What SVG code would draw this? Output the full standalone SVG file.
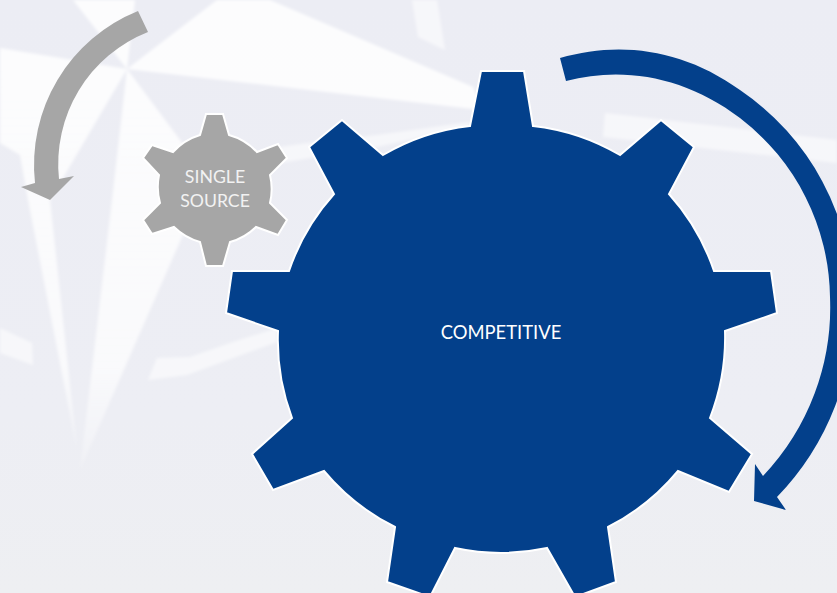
<svg xmlns="http://www.w3.org/2000/svg" width="837" height="593" viewBox="0 0 837 593">
  <defs>
    <linearGradient id="bg" x1="0" y1="0" x2="0" y2="1">
      <stop offset="0" stop-color="#ecedf4"/>
      <stop offset="0.7" stop-color="#edeef4"/>
      <stop offset="1" stop-color="#eeeff2"/>
    </linearGradient>
    <linearGradient id="rayfade" gradientUnits="userSpaceOnUse" x1="0" y1="70" x2="0" y2="470">
      <stop offset="0" stop-color="#ffffff" stop-opacity="0.85"/>
      <stop offset="0.75" stop-color="#ffffff" stop-opacity="0.7"/>
      <stop offset="1" stop-color="#ffffff" stop-opacity="0.15"/>
    </linearGradient>
    <filter id="soft" x="-5%" y="-5%" width="110%" height="110%">
      <feGaussianBlur stdDeviation="1.4"/>
    </filter>
  </defs>
  <style>
    .wm { fill: #ffffff; fill-opacity: 0.86; stroke: none; }
    .wf { fill: #ffffff; fill-opacity: 0.55; stroke: none; }
    .ray { fill: url(#rayfade); stroke: none; }
    .blue { fill: #03408b; }
    .grey { fill: #a6a6a6; }
    .gear { stroke: #ffffff; stroke-width: 2; stroke-linejoin: miter; }
    text { font-family: "Lato", "Open Sans", sans-serif; text-anchor: middle; }
    .big { fill: #ffffff; font-size: 18.4px; }
    .small { fill: #f2f2f2; font-size: 17.7px; }
  </style>
  <rect width="837" height="593" fill="url(#bg)"/>
  <g id="watermark" filter="url(#soft)">
    <polygon class="wm" points="127,69 217,0 270,0 473,87 482,110"/>
    <polygon class="wm" points="127,69 73,0 135,0"/>
    <polygon class="ray" points="127,69 0,48 0,143 20,155 28,200 77,450 50,200"/>
    <polygon class="ray" points="127,69 195,160 185,230 80,470 112,200"/>
    <polygon class="wf" points="412,0 437,0 445,50 418,37"/>
    <polygon class="wf" points="280,147 308,143 377,135 470,122 468,127 377,147 310,158 280,163"/>
    <polygon class="wf" points="605,113 837,140 837,163 603,137"/>
    <polygon class="wf" points="0,328 32,343 33,365 0,353"/>
    <polygon class="wf" points="157,358 148,380 187,375 277,342 277,328 233,342 190,357"/>
  </g>
  <g id="connectors">
    <path class="grey" d="M138,11 A166,166 0 0 0 35,183 L21,187 L50,200 L74,176 L59,179 A142,142 0 0 1 148,32 Z"/>
    <path class="blue" d="M560,58 C618,41 682,48 740,90 A258,258 0 0 1 853,300 A270,270 0 0 1 777,497 L786,510 L754,501 L755,464 L763,476 A245,245 0 0 0 830,297 A229,229 0 0 0 740,118 C685,76 622,66 566,81 Z"/>
  </g>
  <g id="node-competitive">
    <path class="blue gear" d="M470,126 L481,71 L524,71 L533,126 A220,220 0 0 1 620,155 L661,120 L694,147 L669,194 A220,220 0 0 1 714,271 L771,271 L777,313 L725,331 A220,220 0 0 1 710,418 L752,454 L729,492 L678,471 A220,220 0 0 1 608,527 L616,582 L575,597 L547,548 A220,220 0 0 1 455,548 L430,597 L387,582 L395,527 A220,220 0 0 1 324,471 L273,490 L252,454 L292,418 A220,220 0 0 1 278,331 L226,313 L232,271 L289,271 A220,220 0 0 1 334,194 L309,147 L342,120 L383,155 A220,220 0 0 1 470,126 Z"/>
    <text class="big" x="501" y="339">COMPETITIVE</text>
  </g>
  <g id="node-single-source">
    <path class="grey gear" d="M200,135 L206,114 L223,114 L229,135 A60,60 0 0 1 257,152 L278,144 L287,158 L270,175 A60,60 0 0 1 270,203 L287,220 L278,235 L256,227 A60,60 0 0 1 230,242 L223,266 L206,266 L200,242 A60,60 0 0 1 174,227 L152,234 L143,220 L160,203 A60,60 0 0 1 159,175 L143,158 L152,145 L173,152 A60,60 0 0 1 200,135 Z"/>
    <text class="small" x="215" y="183">SINGLE</text>
    <text class="small" x="215" y="207">SOURCE</text>
  </g>
</svg>
